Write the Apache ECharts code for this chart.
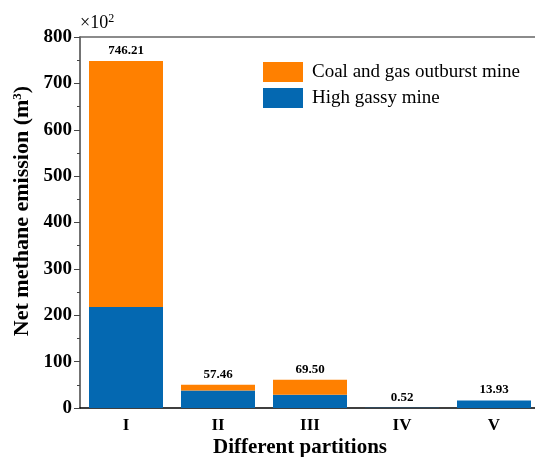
<!DOCTYPE html>
<html><head><meta charset="utf-8">
<script src="https://cdn.jsdelivr.net/npm/echarts@6/dist/echarts.min.js"></script>
<style>html,body{margin:0;padding:0;background:#fff}#c{width:535px;height:457px}</style>
</head><body><div id="c"></div>
<script>
var categories = ['I', 'II', 'III', 'IV', 'V'];
var highGassy = [218, 38, 28.7, 0.52, 16.4];
var outburst = [530, 12.3, 32.3, 0, 0];
var totalLabels = ['746.21', '57.46', '69.50', '0.52', '13.93'];
var yTicks = [0, 100, 200, 300, 400, 500, 600, 700, 800];

var serif = '"Liberation Serif","Times New Roman",serif';
var chart = echarts.init(document.getElementById('c'));
chart.setOption({
  animation: false,
  grid: {left: 80, top: 37, bottom: 49, right: -5, containLabel: false, outerBoundsMode: 'none'},
  legend: {
    orient: 'vertical', left: 263, top: 62, padding: 0, itemWidth: 40, itemHeight: 20, itemGap: 6,
    icon: 'rect',
    data: ['Coal and gas outburst mine', 'High gassy mine'],
    textStyle: {fontFamily: serif, fontSize: 19, color: '#000', padding: [0, 0, 0, 4]}
  },
  xAxis: [{
    type: 'category', data: categories,
    axisLine: {lineStyle: {color: '#000', width: 1.5}},
    axisTick: {show: false},
    axisLabel: {fontFamily: serif, fontWeight: 'bold', fontSize: 17, color: '#000', margin: 9}
  }, {
    type: 'category', data: categories, position: 'top',
    axisLine: {lineStyle: {color: '#666', width: 1.5}},
    axisTick: {show: false}, axisLabel: {show: false}
  }],
  yAxis: {
    type: 'value', min: yTicks[0], max: yTicks[yTicks.length - 1], interval: 100,
    axisLine: {show: true, lineStyle: {color: '#444', width: 1.5}},
    axisTick: {show: true, length: 6, lineStyle: {color: '#444'}},
    minorTick: {show: true, splitNumber: 2, length: 3, lineStyle: {color: '#444'}},
    splitLine: {show: false},
    axisLabel: {fontFamily: serif, fontWeight: 'bold', fontSize: 19, color: '#000', margin: 8}
  },
  series: [{
    name: 'High gassy mine', type: 'bar', stack: 't', data: highGassy, barWidth: 74,
    itemStyle: {color: '#0468B1'}
  }, {
    name: 'Coal and gas outburst mine', type: 'bar', stack: 't', data: outburst, barWidth: 74,
    itemStyle: {color: '#FF8000'},
    label: {show: true, position: 'top', distance: 4,
      formatter: function (p) { return totalLabels[p.dataIndex]; },
      fontFamily: serif, fontWeight: 'bold', fontSize: 13, color: '#000'}
  }],
  graphic: [{
    type: 'text', left: 80, top: 13,
    style: {text: '×10{s|2}', fontFamily: serif, fontSize: 18, fill: '#000',
      rich: {s: {fontFamily: serif, fontSize: 12, fill: '#000', verticalAlign: 'top', padding: [0, 0, 8, 0]}}}
  }, {
    type: 'text', x: 300, y: 448,
    style: {text: 'Different partitions', fontFamily: serif, fontWeight: 'bold', fontSize: 21, fill: '#000',
      align: 'center', verticalAlign: 'middle'}
  }, {
    type: 'text', x: 22, y: 211, rotation: Math.PI / 2,
    style: {text: 'Net methane emission (m{s|3})', fontFamily: serif, fontWeight: 'bold', fontSize: 22, fill: '#000',
      align: 'center', verticalAlign: 'middle',
      rich: {s: {fontFamily: serif, fontWeight: 'bold', fontSize: 13, fill: '#000', verticalAlign: 'top', padding: [0, 0, 9, 0]}}}
  }]
});
</script></body></html>
